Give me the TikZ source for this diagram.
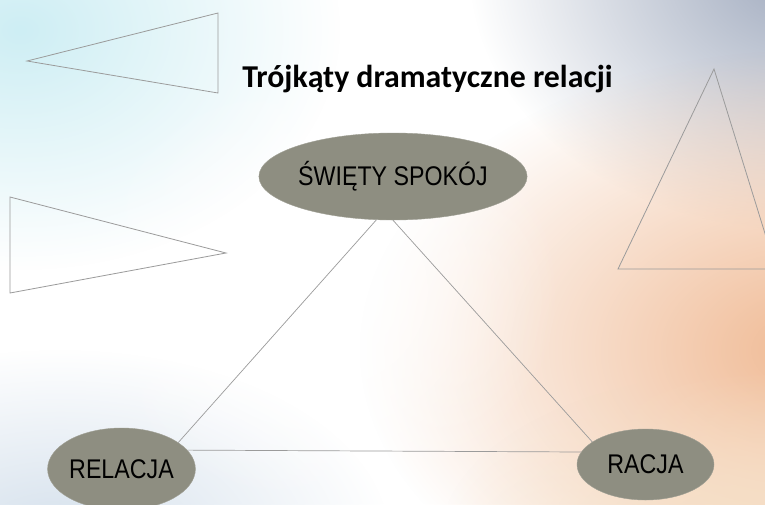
\documentclass[tikz,border=0pt]{standalone}
\usepackage{fontspec}
\setmainfont{Liberation Sans}
\newfontfamily\titlefont{Carlito}
\newfontfamily\ovalfont[FakeStretch=0.86]{Liberation Sans}
\usetikzlibrary{shapes.geometric,fadings}

\definecolor{ovalgrey}{RGB}{142,142,129}
\definecolor{linegrey}{RGB}{155,155,155}
\definecolor{bgcyan}{RGB}{206,238,244}
\definecolor{bgslate}{RGB}{160,170,190}
\definecolor{bgpeach}{RGB}{240,186,148}
\definecolor{bgcream}{RGB}{245,222,196}
\definecolor{bgmist}{RGB}{212,224,236}

\tikzfading[name=softglow, inner color=transparent!0, outer color=transparent!100]

\begin{document}
\begin{tikzpicture}[
    x=1pt, y=-1pt,
    oval/.style={
      ellipse,
      fill=ovalgrey,
      draw=ovalgrey!85!white,
      inner sep=0pt,
      font=\ovalfont\fontsize{27}{30}\selectfont
    },
    outline/.style={draw=linegrey, line width=0.8pt, line join=miter},
    link/.style={draw=linegrey, line width=0.7pt},
]

\useasboundingbox (0,0) rectangle (765,504);
\clip (0,0) rectangle (765,504);

% background glow
\fill[white] (0,0) rectangle (765,504);
\fill[bgcyan, path fading=softglow] (20,30) ellipse (320 and 240);
\fill[bgmist, path fading=softglow] (60,540) ellipse (330 and 190);
\fill[bgslate, path fading=softglow] (800,-30) ellipse (330 and 260);
\fill[bgpeach, path fading=softglow] (810,350) ellipse (450 and 300);
\fill[bgcream, path fading=softglow] (760,540) ellipse (320 and 170);
\fill[white, path fading=softglow, opacity=0.9] (320,290) ellipse (240 and 220);

% triangles
\draw[outline] (27,61) -- (218,13) -- (218,93) -- cycle;
\draw[outline] (10,197) -- (226,253) -- (10,293) -- cycle;
\draw[outline] (714,69) -- (776,269) -- (618,269) -- cycle;

\node[anchor=base, font=\titlefont\bfseries\fontsize{31.8}{38}\selectfont] (title) at (427.5,87) {Trójkąty dramatyczne relacji};

\node[oval, minimum width=238pt, minimum height=87pt] (spokoj) at (393,176.5) {ŚWIĘTY SPOKÓJ};
\node[oval, minimum width=129pt, minimum height=82pt] (relacja) at (121.5,469) {RELACJA};
\node[oval, minimum width=137pt, minimum height=71pt] (racja) at (645.5,464.5) {RACJA};

\draw[link] (spokoj.-111) -- (relacja.25);
\draw[link] (spokoj.south) -- (racja.157);
\draw[link] (relacja.16) -- (racja.169);

\end{tikzpicture}
\end{document}
